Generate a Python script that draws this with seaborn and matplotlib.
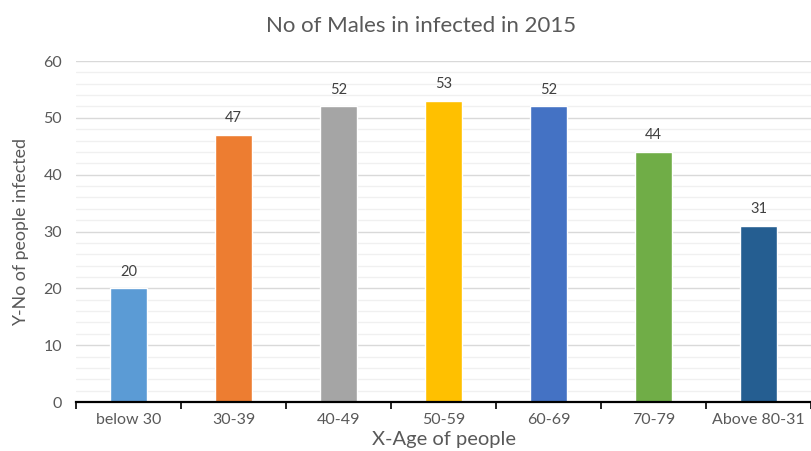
import matplotlib
matplotlib.use("Agg")
import matplotlib.pyplot as plt
from matplotlib.ticker import MultipleLocator, FixedLocator
import seaborn as sns
import pandas as pd

age_groups = ["below 30", "30-39", "40-49", "50-59", "60-69", "70-79", "Above 80-31"]
infected = [20, 47, 52, 53, 52, 44, 31]
bar_colors = ["#5B9BD5", "#ED7D31", "#A5A5A5", "#FFC000", "#4472C4", "#70AD47", "#255E91"]

title = "No of Males in infected in 2015"
x_label = "X-Age of people"
y_label = "Y-No of people infected"

sns.set_theme(style="white")
plt.rcParams["font.family"] = ["Lato", "DejaVu Sans"]

df = pd.DataFrame({"age": age_groups, "count": infected})

fig = plt.figure(figsize=(8.12, 4.51), dpi=100)
ax = fig.add_axes([0.0936, 0.1086, 0.9052, 0.7561])

sns.barplot(data=df, x="age", y="count", hue="age", palette=bar_colors,
            legend=False, width=0.36, ax=ax, saturation=1)

for container in ax.containers:
    ax.bar_label(container, padding=7, fontsize=10.5, color="#404040")

ax.set_ylim(0, 60)
ax.set_xlim(-0.5, len(age_groups) - 0.5)
ax.yaxis.set_major_locator(MultipleLocator(10))
ax.yaxis.set_minor_locator(MultipleLocator(2))
ax.grid(axis="y", which="major", color="#D9D9D9", linewidth=1.0)
ax.grid(axis="y", which="minor", color="#F0F0F0", linewidth=1.0)
ax.set_axisbelow(True)

for side in ["top", "right", "left"]:
    ax.spines[side].set_visible(False)
ax.spines["bottom"].set_color("black")
ax.spines["bottom"].set_linewidth(1.6)

ax.xaxis.set_minor_locator(FixedLocator([i - 0.5 for i in range(len(age_groups) + 1)]))
ax.tick_params(axis="x", which="major", length=0, pad=8, labelsize=11.5, labelcolor="#595959")
ax.tick_params(axis="x", which="minor", length=5, width=1.2, color="black", direction="out", bottom=True)
ax.tick_params(axis="y", which="both", length=0, pad=10, labelsize=11.5, labelcolor="#595959")

ax.set_xlabel(x_label, fontsize=14.5, color="#595959", labelpad=3)
ax.set_ylabel(y_label, fontsize=12.8, color="#595959", labelpad=10)
fig.suptitle(title, fontsize=16, color="#595959", x=0.519, y=0.965)

fig.savefig("out.png", dpi=100)
